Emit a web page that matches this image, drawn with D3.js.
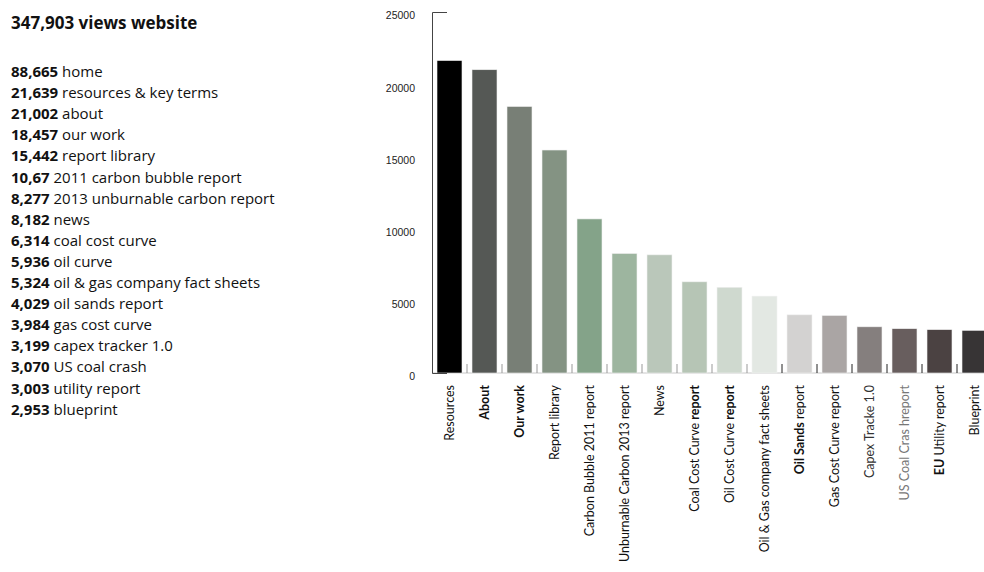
<!DOCTYPE html>
<html>
<head>
<meta charset="utf-8">
<script src="https://cdn.jsdelivr.net/npm/d3@7"></script>
<style>
  body { margin: 0; background: #fff; }
  svg { display: block; }
</style>
</head>
<body>
<svg id="chart" width="984" height="572"></svg>
<script>
// vistas por pagina
const titulo = "347,903 views website";

const listaNumeros = ["88,665", "21,639", "21,002", "18,457", "15,442", "10,67", "8,277", "8,182",
  "6,314", "5,936", "5,324", "4,029", "3,984", "3,199", "3,070", "3,003", "2,953"];
const listaPaginas = ["home", "resources & key terms", "about", "our work", "report library",
  "2011 carbon bubble report", "2013 unburnable carbon report", "news", "coal cost curve",
  "oil curve", "oil & gas company fact sheets", "oil sands report", "gas cost curve",
  "capex tracker 1.0", "US coal crash", "utility report", "blueprint"];

const categorias = ["Resources", "About", "Our work", "Report library", "Carbon Bubble 2011 report",
  "Unburnable Carbon 2013 report", "News", "Coal Cost Curve report", "Oil Cost Curve report",
  "Oil & Gas company fact sheets", "Oil Sands report", "Gas Cost Curve report", "Capex Tracke 1.0",
  "US Coal Cras hreport", "EU Utility report", "Blueprint"];
const valores = [21639, 21002, 18457, 15442, 10670, 8277, 8182, 6314, 5936, 5324, 4029, 3984, 3199, 3070, 3003, 2953];
const colores = ["#000000", "#555855", "#787f76", "#849383", "#84a389", "#9db59f", "#bac7ba", "#b6c5b5",
  "#cfd9cf", "#e3e8e3", "#d3d2d1", "#aaa5a4", "#857f7e", "#685e5e", "#4b4242", "#373435"];
const ticksY = [0, 5000, 10000, 15000, 20000, 25000];

// partes en negrita de algunas etiquetas (como en el original)
const negritas = {
  "About": "About",
  "Our work": "Our work",
  "Coal Cost Curve report": "report",
  "Oil Cost Curve report": "report",
  "Oil Sands report": "Oil Sands",
  "EU Utility report": "EU"
};

const svg = d3.select("#chart");

// texto de la izquierda
svg.append("text")
  .attr("x", 11).attr("y", 29)
  .text(titulo)
  .style("font-family", "'Open Sans', sans-serif")
  .style("font-size", "17px")
  .style("font-weight", "bold")
  .style("fill", "#111");

const lista = svg.append("g").attr("transform", "translate(11, 77)");
listaNumeros.forEach((n, i) => {
  const t = lista.append("text")
    .attr("y", i * 21.1)
    .style("font-family", "'Open Sans', sans-serif")
    .style("font-size", "15px")
    .style("fill", "#111");
  t.append("tspan").style("font-weight", "bold").text(n + " ");
  t.append("tspan").text(listaPaginas[i]);
});

// grafica de barras
const x = d3.scaleBand()
  .domain(categorias)
  .range([437, 987])
  .paddingInner(10 / 35)
  .paddingOuter(0);

const y = d3.scaleLinear()
  .domain([0, 25000])
  .range([373, 12]);

// linea base
svg.append("line")
  .attr("x1", 432).attr("x2", 984)
  .attr("y1", y(0)).attr("y2", y(0))
  .attr("stroke", "#c8c8c8");

svg.selectAll("rect.barra")
  .data(categorias)
  .join("rect")
  .attr("class", "barra")
  .attr("x", d => x(d))
  .attr("y", (d, i) => y(valores[i]))
  .attr("width", x.bandwidth())
  .attr("height", (d, i) => y(0) - y(valores[i]))
  .attr("fill", (d, i) => colores[i])
  .attr("stroke", "#f0f0f0")
  .attr("stroke-width", 0.6);

// marcas entre barras
const gap = x.step() - x.bandwidth();
svg.selectAll("line.sep")
  .data(categorias.slice(1))
  .join("line")
  .attr("class", "sep")
  .attr("x1", d => x(d) - gap / 2).attr("x2", d => x(d) - gap / 2)
  .attr("y1", y(0)).attr("y2", y(0) - 9)
  .attr("stroke", (d, i) => i >= 9 ? "#222" : "#999")
  .attr("stroke-width", 1);

// eje Y
const ejeY = svg.append("g")
  .attr("transform", "translate(432,0)")
  .call(d3.axisLeft(y).tickValues(ticksY).tickSize(0).tickSizeOuter(-15).tickPadding(17).tickFormat(d3.format("d")));
ejeY.select(".domain").attr("stroke", "#444");
ejeY.selectAll("text")
  .attr("dy", "0.65em")
  .style("font-family", "'Liberation Sans', sans-serif")
  .style("font-size", "10.5px")
  .style("fill", "#222");

// etiquetas X
const etiquetas = svg.selectAll("text.etq")
  .data(categorias)
  .join("text")
  .attr("class", "etq")
  .attr("transform", d => `translate(${x(d) + x.bandwidth() / 2 + 4}, 385) rotate(-90)`)
  .attr("text-anchor", "end")
  .style("font-family", "Lato, sans-serif")
  .style("font-size", "12.5px")
  .style("fill", (d, i) => i === 13 ? "#777" : (i === 12 ? "#333" : "#111"));

etiquetas.each(function(d) {
  const t = d3.select(this);
  const b = negritas[d];
  if (!b) { t.text(d); return; }
  const k = d.indexOf(b);
  const partes = [d.slice(0, k), b, d.slice(k + b.length)];
  partes.forEach((p, j) => {
    if (p) t.append("tspan").style("font-weight", j === 1 ? "bold" : null).text(p);
  });
});
</script>
</body>
</html>
